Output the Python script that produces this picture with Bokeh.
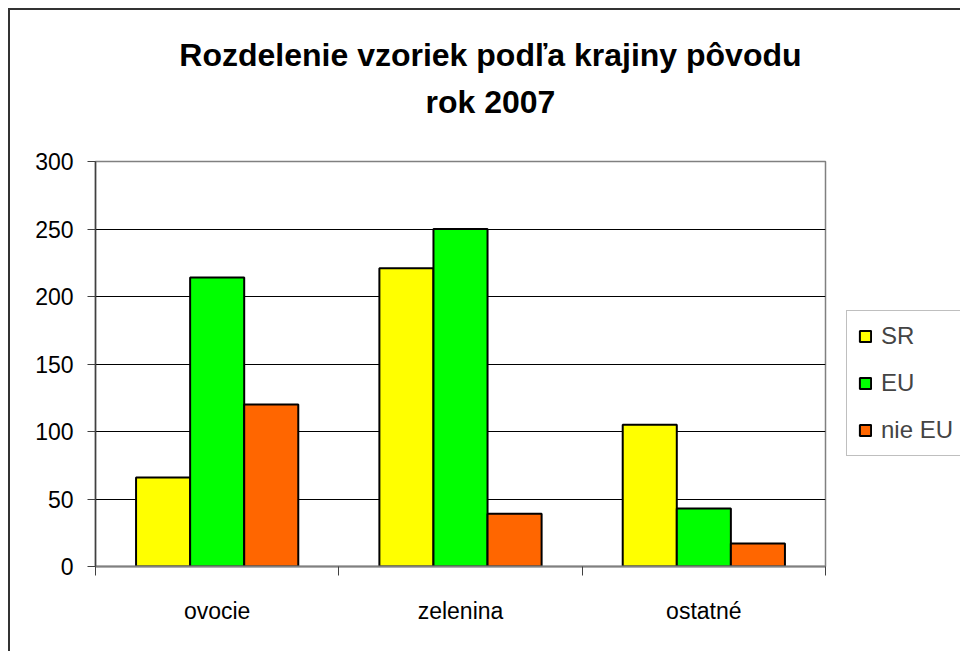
from bokeh.plotting import figure
from bokeh.models import Range1d, FixedTicker, Legend, LegendItem, ColumnDataSource, LinearAxis
from bokeh.embed import file_html
from bokeh.resources import INLINE

categories = ["ovocie", "zelenina", "ostatné"]
series_names = ["SR", "EU", "nie EU"]
sr = [66, 221, 105]
eu = [214, 250, 43]
nie_eu = [120, 39, 17]
colors = ["#FFFF00", "#00FF00", "#FF6600"]
y_ticks = [0, 50, 100, 150, 200, 250, 300]
title_lines = ["Rozdelenie vzoriek podľa krajiny pôvodu", "rok 2007"]

FONT = "Liberation Sans"
TITLE_X = 1.623  # horizontal centre of the title, in category units

p = figure(frame_width=730, frame_height=405, x_range=Range1d(0, len(categories)), y_range=Range1d(0, 300),
           output_backend="svg", toolbar_location=None,
           min_border_left=85, min_border_right=134, min_border_top=151, min_border_bottom=85)
p.styles = {"border-left": "2px solid #333333", "border-top": "2px solid #333333",
            "margin-left": "8px", "margin-top": "8px"}
p.background_fill_color = "white"
p.border_fill_color = "white"
p.outline_line_color = "#808080"
p.outline_line_width = 1.5

# grid
p.xgrid.visible = False
p.ygrid.ticker = FixedTicker(ticks=y_ticks)
p.ygrid.grid_line_color = "black"
p.ygrid.grid_line_width = 1

# y axis
p.yaxis.ticker = FixedTicker(ticks=y_ticks)
p.yaxis.axis_line_color = "#404040"
p.yaxis.axis_line_width = 1.5
p.yaxis.major_tick_line_color = "#404040"
p.yaxis.major_tick_out = 8
p.yaxis.major_tick_in = 0
p.yaxis.minor_tick_line_color = None
p.yaxis.major_label_text_font = FONT
p.yaxis.major_label_text_font_size = "23px"
p.yaxis.major_label_text_color = "black"
p.yaxis.major_label_standoff = 14

# x axis: labels at category centres, ticks at category boundaries
centres = [i + 0.5 for i in range(len(categories))]
bounds = [float(i) for i in range(len(categories) + 1)]
p.xaxis.ticker = FixedTicker(ticks=centres, minor_ticks=bounds)
p.xaxis.major_label_overrides = {c: name for c, name in zip(centres, categories)}
p.xaxis.major_tick_line_color = None
p.xaxis.minor_tick_line_color = "#404040"
p.xaxis.minor_tick_out = 9
p.xaxis.minor_tick_in = 0
p.xaxis.axis_line_color = "#808080"
p.xaxis.axis_line_width = 2
p.xaxis.major_label_text_font = FONT
p.xaxis.major_label_text_font_size = "23px"
p.xaxis.major_label_text_color = "black"
p.xaxis.major_label_standoff = 22

# bars (gap width 150% -> bar width = 1/4.5 of a category)
bw = 1 / 4.5
items = []
for k, (name, vals, col) in enumerate(zip(series_names, [sr, eu, nie_eu], colors)):
    src = ColumnDataSource(dict(x=[i + 0.5 + (k - 1) * bw for i in range(len(categories))], top=vals))
    r = p.vbar(x="x", top="top", width=bw, bottom=0, source=src,
               fill_color=col, line_color="black", line_width=2)
    items.append(LegendItem(label=name, renderers=[r]))

legend = Legend(items=items, location=(21, 110), glyph_width=14, glyph_height=14,
                label_text_font=FONT, label_text_font_size="24px", label_standoff=9,
                spacing=19, padding=11, margin=0, border_line_color="#808080",
                border_line_width=1.5, background_fill_color="white", background_fill_alpha=1)
p.add_layout(legend, "right")

# two-line chart title, drawn as labels of two bare axes above the plot area
for line, standoff in [(title_lines[1], 42), (title_lines[0], 8)]:
    ax = LinearAxis(ticker=FixedTicker(ticks=[TITLE_X]), major_label_overrides={TITLE_X: line},
                    axis_line_color=None, major_tick_line_color=None, minor_tick_line_color=None,
                    major_tick_out=0, major_tick_in=0, major_label_standoff=standoff,
                    major_label_text_font=FONT, major_label_text_font_size="32px",
                    major_label_text_font_style="bold", major_label_text_color="black")
    p.add_layout(ax, "above")

open("out.html", "w").write(file_html(p, INLINE))
